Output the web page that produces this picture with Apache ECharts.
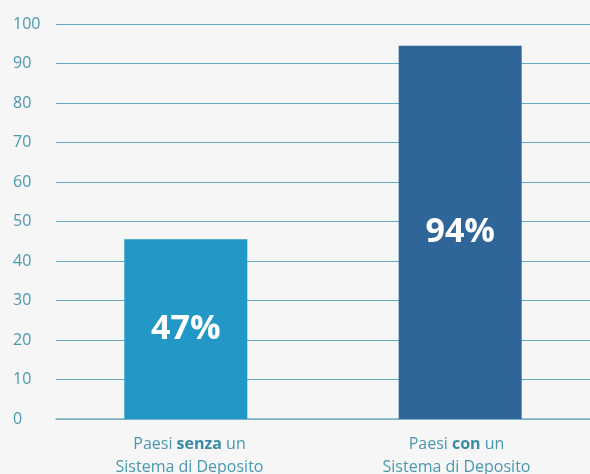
<!DOCTYPE html>
<html>
<head>
<meta charset="utf-8">
<script src="https://cdn.jsdelivr.net/npm/echarts@6/dist/echarts.min.js"></script>
<style>
  html, body { margin: 0; padding: 0; background: #f6f6f6; }
  #chart { width: 590px; height: 474px; }
</style>
</head>
<body>
<div id="chart"></div>
<script>
const categories = ['Paesi senza un\nSistema di Deposito', 'Paesi con un\nSistema di Deposito']
const boldWords = ['senza', 'con']
const values = [45.5, 94.5]
const valueLabels = ['47%', '94%']
const barColors = ['#2398c6', '#2f6598']

const chart = echarts.init(document.getElementById('chart'))

// one series per category so each bar can sit slightly off-centre like the original
const series = values.map((v, i) => ({
  type: 'bar',
  barWidth: 123,
  barGap: '-94%',
  itemStyle: { color: barColors[i] },
  data: values.map((_, j) => (j === i ? v : null)),
  label: {
    show: true,
    position: 'inside',
    formatter: valueLabels[i],
    color: '#ffffff',
    fontFamily: 'Open Sans',
    fontWeight: 'bold',
    fontSize: 34
  }
}))

const option = {
  backgroundColor: '#f6f6f6',
  grid: {
    left: 56,
    right: 0,
    top: 24,
    bottom: 55,
    outerBoundsMode: 'none'
  },
  xAxis: {
    type: 'category',
    data: categories,
    axisTick: { show: false },
    axisLine: { lineStyle: { color: '#7fb3c6', width: 1.5 } },
    axisLabel: {
      margin: 14,
      color: '#4a98b0',
      fontFamily: 'Open Sans',
      fontSize: 16,
      lineHeight: 23,
      formatter: (val, i) => {
        const w = boldWords[i]
        return val.replace(w, '{b|' + w + '}')
      },
      rich: {
        b: { fontWeight: 'bold', color: '#3b8aa3', fontFamily: 'Open Sans', fontSize: 16, lineHeight: 23 }
      }
    }
  },
  yAxis: {
    type: 'value',
    min: 0,
    max: 100,
    interval: 10,
    axisLine: { show: false },
    axisTick: { show: false },
    splitLine: { lineStyle: { color: '#6aaac0', width: 1.2 } },
    axisLabel: {
      color: '#4a98b0',
      fontFamily: 'Open Sans',
      fontSize: 16,
      align: 'left',
      margin: 43
    }
  },
  series: series
}
chart.setOption(option)
</script>
</body>
</html>
